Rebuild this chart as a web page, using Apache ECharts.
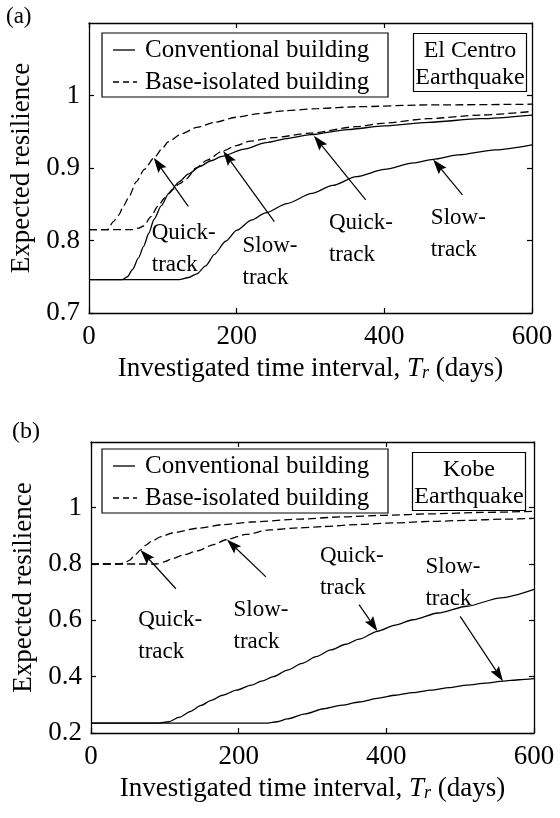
<!DOCTYPE html>
<html><head><meta charset="utf-8">
<script src="https://cdn.jsdelivr.net/npm/echarts/dist/echarts.min.js"></script>
<style>html,body{margin:0;padding:0;background:#fff}#c{width:560px;height:818px}</style>
</head><body><div id="c"></div>
<script>
// ---- data (days, expected resilience) ----
const xTicks = [0, 200, 400, 600];
const yTicksA = [0.7, 0.8, 0.9, 1];
const yTicksB = [0.2, 0.4, 0.6, 0.8, 1];
const legendNames = ['Conventional building', 'Base-isolated building'];

// (a) El Centro
const convQuickA = [[0,0.746],[45,0.746],[52,0.75],[59,0.76],[67,0.776],[74,0.792],[81,0.81],[88,0.829],[98,0.848],[108,0.865],[122,0.881],[135,0.892],[150,0.902],[165,0.91],[180,0.916],[210,0.926],[240,0.935],[270,0.941],[300,0.946],[350,0.953],[400,0.958],[460,0.963],[530,0.968],[600,0.973]];
const convSlowA = [[0,0.746],[122,0.746],[135,0.749],[146,0.754],[158,0.765],[170,0.781],[185,0.799],[200,0.814],[220,0.828],[239,0.838],[268,0.851],[302,0.865],[330,0.876],[362,0.888],[400,0.898],[440,0.907],[466,0.912],[500,0.918],[550,0.925],[600,0.932]];
const baseQuickA = [[0,0.815],[25,0.815],[33,0.826],[40,0.835],[47,0.848],[54,0.86],[64,0.881],[75,0.898],[88,0.914],[100,0.928],[107,0.936],[125,0.947],[146,0.956],[170,0.963],[199,0.97],[230,0.975],[266,0.979],[310,0.982],[362,0.9845],[459,0.987],[600,0.988]];
const baseSlowA = [[0,0.815],[59,0.815],[67,0.817],[74,0.82],[84,0.833],[93,0.847],[103,0.859],[113,0.87],[122,0.878],[132,0.885],[145,0.9],[160,0.911],[181,0.9235],[200,0.931],[218,0.937],[250,0.942],[300,0.948],[362,0.957],[400,0.962],[459,0.968],[530,0.973],[600,0.978]];

// (b) Kobe
const convQuickB = [[0,0.235],[91,0.235],[105,0.24],[120,0.256],[135,0.277],[149,0.298],[163,0.316],[178,0.334],[197,0.352],[217,0.37],[232,0.385],[247,0.4],[266,0.423],[286,0.447],[305,0.471],[325,0.495],[345,0.515],[363,0.533],[388,0.561],[412,0.583],[436,0.602],[470,0.626],[509,0.65],[555,0.68],[600,0.71]];
const convSlowB = [[0,0.235],[239,0.235],[252,0.24],[266,0.25],[290,0.268],[315,0.286],[340,0.299],[363,0.31],[390,0.324],[412,0.334],[436,0.343],[461,0.352],[485,0.361],[509,0.37],[535,0.377],[558,0.384],[580,0.389],[600,0.393]];
const baseQuickB = [[0,0.8],[37,0.8],[45,0.803],[52,0.813],[60,0.833],[67,0.85],[75,0.868],[81,0.879],[95,0.897],[110,0.91],[145,0.927],[180,0.94],[218,0.949],[280,0.959],[339,0.967],[400,0.973],[461,0.978],[530,0.983],[600,0.987]];
const baseSlowB = [[0,0.8],[89,0.8],[100,0.808],[110,0.819],[125,0.832],[145,0.847],[165,0.868],[184,0.887],[210,0.905],[242,0.921],[280,0.928],[315,0.933],[360,0.94],[412,0.946],[460,0.951],[509,0.955],[560,0.959],[600,0.962]];

// annotations: arrows [tail, tip] and labels [day, value, text]
const arrowsA = [[[134.5,0.847],[87.7,0.914]],[[251,0.826],[181.7,0.9235]],[[374.8,0.856],[304.6,0.9446]],[[505.8,0.863],[466,0.9117]]];
const arrowsB = [[[115,0.712],[67,0.85]],[[237,0.754],[184,0.887]],[[363,0.656],[388,0.561]],[[500,0.614],[558,0.384]]];
const labelsA = [[85,0.788,'Quick-\ntrack'],[208,0.7705,'Slow-\ntrack'],[325,0.8015,'Quick-\ntrack'],[463,0.8095,'Slow-\ntrack']];
const labelsB = [[64,0.544,'Quick-\ntrack'],[193,0.579,'Slow-\ntrack'],[310,0.773,'Quick-\ntrack'],[453,0.732,'Slow-\ntrack']];

const FONT = '"Liberation Serif","Times New Roman",serif';
const BLACK = '#000';
const DASH = [8, 4];

function xAxes(gi) {
  return [{
    type:'value', gridIndex:gi, min:0, max:600, interval:200, position:'bottom',
    axisLine:{show:true, onZero:false, lineStyle:{color:BLACK, width:1.3}},
    axisTick:{show:true, inside:true, length:5, customValues:xTicks, lineStyle:{color:BLACK, width:1.2}},
    axisLabel:{color:BLACK, fontFamily:FONT, fontSize:27, margin:10, customValues:xTicks},
    splitLine:{show:false},
    name:'{n|Investigated time interval, }{i|T}{s|r}{n| (days)}',
    nameLocation:'middle', nameGap:42,
    nameTextStyle:{color:BLACK, fontFamily:FONT, fontSize:27,
      rich:{n:{fontFamily:FONT, fontSize:27, color:BLACK, verticalAlign:'bottom'},
            i:{fontFamily:FONT, fontSize:27, fontStyle:'italic', color:BLACK, verticalAlign:'bottom'},
            s:{fontFamily:FONT, fontSize:18, fontStyle:'italic', color:BLACK, verticalAlign:'bottom'}}}
  },{
    type:'value', gridIndex:gi, min:0, max:600, interval:200, position:'top',
    axisLine:{show:true, onZero:false, lineStyle:{color:BLACK, width:1.3}},
    axisTick:{show:true, inside:true, length:5, customValues:xTicks, lineStyle:{color:BLACK, width:1.2}},
    axisLabel:{show:false}, splitLine:{show:false}
  }];
}
function yAxes(gi, min, max, interval, ticks) {
  const fmt = v => (v > 1.001 ? '' : (Math.abs(v-1) < 1e-6 ? '1' : v.toFixed(1)));
  return [{
    type:'value', gridIndex:gi, min:min, max:max, interval:interval, position:'left',
    axisLine:{show:true, onZero:false, lineStyle:{color:BLACK, width:1.3}},
    axisTick:{show:true, inside:true, length:5, customValues:ticks, lineStyle:{color:BLACK, width:1.2}},
    axisLabel:{color:BLACK, fontFamily:FONT, fontSize:27, margin:9, customValues:ticks, formatter:fmt},
    splitLine:{show:false},
    name:'Expected resilience', nameLocation:'middle', nameGap:48,
    nameTextStyle:{color:BLACK, fontFamily:FONT, fontSize:27}
  },{
    type:'value', gridIndex:gi, min:min, max:max, interval:interval, position:'right',
    axisLine:{show:true, onZero:false, lineStyle:{color:BLACK, width:1.3}},
    axisTick:{show:true, inside:true, length:5, customValues:ticks, lineStyle:{color:BLACK, width:1.2}},
    axisLabel:{show:false}, splitLine:{show:false}
  }];
}
function curve(name, data, dashed, gi) {
  return {
    type:'line', name:name, data:data, xAxisIndex:gi*2, yAxisIndex:gi*2,
    symbol:'none', smooth:0.25, smoothMonotone:'x', animation:false, silent:true,
    lineStyle:{color:BLACK, width:1.3, type: dashed ? DASH : 'solid'},
    itemStyle:{color:BLACK}
  };
}
function labelsOn(series, labels) {
  series.markPoint = {
    silent:true, animation:false, symbol:'circle', symbolSize:0,
    data: labels.map(l => ({coord:[l[0], l[1]], value:l[2],
      label:{show:true, position:'right', distance:0, formatter:l[2], color:BLACK,
             fontFamily:FONT, fontSize:23, lineHeight:32, align:'left'}}))
  };
  return series;
}
function arrowSeries(arrows, gi) {
  return {
    type:'custom', coordinateSystem:'cartesian2d', xAxisIndex:gi*2, yAxisIndex:gi*2,
    silent:true, animation:false, clip:false,
    data: arrows.map(a => [a[0][0], a[0][1], a[1][0], a[1][1]]),
    encode:{x:[0,2], y:[1,3]},
    renderItem: function (params, api) {
      const p0 = api.coord([api.value(0), api.value(1)]);
      const p1 = api.coord([api.value(2), api.value(3)]);
      const dx = p1[0]-p0[0], dy = p1[1]-p0[1];
      const L = Math.hypot(dx, dy) || 1;
      const ux = dx/L, uy = dy/L, nx = -uy, ny = ux;
      const hl = 15, hw = 5;
      const bx = p1[0]-ux*hl, by = p1[1]-uy*hl;
      return {type:'group', children:[
        {type:'line', shape:{x1:p0[0], y1:p0[1], x2:bx+ux*3, y2:by+uy*3},
         style:{stroke:BLACK, lineWidth:1.2}},
        {type:'polygon', shape:{points:[[p1[0],p1[1]],[bx+nx*hw,by+ny*hw],[bx+ux*2.5,by+uy*2.5],[bx-nx*hw,by-ny*hw]]},
         style:{fill:BLACK}}
      ]};
    }
  };
}
function legendBox(top) {
  const r1 = top + 17, r2 = top + 49;
  return {type:'group', z:100, children:[
    {type:'rect', shape:{x:102, y:top, width:286, height:64}, style:{fill:'#fff', stroke:BLACK, lineWidth:1.2}},
    {type:'line', shape:{x1:113, y1:r1, x2:135, y2:r1}, style:{stroke:BLACK, lineWidth:1.3}},
    {type:'line', shape:{x1:113, y1:r2, x2:137, y2:r2}, style:{stroke:BLACK, lineWidth:1.3, lineDash:[6,4]}},
    {type:'text', x:145, y:r1, style:{text:legendNames[0], fill:BLACK, font:'25px ' + FONT, verticalAlign:'middle', align:'left'}},
    {type:'text', x:145, y:r2, style:{text:legendNames[1], fill:BLACK, font:'25px ' + FONT, verticalAlign:'middle', align:'left'}}
  ]};
}
function boxTitle(text, left, top) {
  return {text:text, left:left, top:top, textAlign:'center', borderColor:BLACK, borderWidth:1.2,
    padding:[4,2,1,2], backgroundColor:'#fff',
    textStyle:{color:BLACK, fontFamily:FONT, fontSize:24, lineHeight:27, fontWeight:'normal'}};
}

const series = [
  labelsOn(curve(legendNames[0], convQuickA, false, 0), labelsA),
  curve('Conventional slow (a)', convSlowA, false, 0),
  curve(legendNames[1], baseQuickA, true, 0),
  curve('Base-isolated slow (a)', baseSlowA, true, 0),
  arrowSeries(arrowsA, 0),
  labelsOn(curve(legendNames[0], convQuickB, false, 1), labelsB),
  curve('Conventional slow (b)', convSlowB, false, 1),
  curve(legendNames[1], baseQuickB, true, 1),
  curve('Base-isolated slow (b)', baseSlowB, true, 1),
  arrowSeries(arrowsB, 1)
];

const option = {
  animation:false,
  backgroundColor:'#fff',
  title:[
    {text:'(a)', left:6, top:5, padding:0, textStyle:{color:BLACK, fontFamily:FONT, fontSize:23, fontWeight:'normal'}},
    {text:'(b)', left:12, top:420, padding:0, textStyle:{color:BLACK, fontFamily:FONT, fontSize:24, fontWeight:'normal'}},
    boxTitle('El Centro\nEarthquake', 468, 33),
    boxTitle('Kobe\nEarthquake', 467, 452)
  ],
  graphic:[legendBox(33), legendBox(449)],
  grid:[
    {left:89, top:23, width:443, height:290, outerBoundsMode:'none', containLabel:false},
    {left:91, top:442, width:443, height:291, outerBoundsMode:'none', containLabel:false}
  ],
  xAxis:[...xAxes(0), ...xAxes(1)],
  yAxis:[...yAxes(0, 0.7, 1.1, 0.1, yTicksA), ...yAxes(1, 0.2, 1.233, 0.2, yTicksB)],
  series:series
};
const chart = echarts.init(document.getElementById('c'), null, {renderer:'canvas'});
chart.setOption(option);
</script></body></html>
